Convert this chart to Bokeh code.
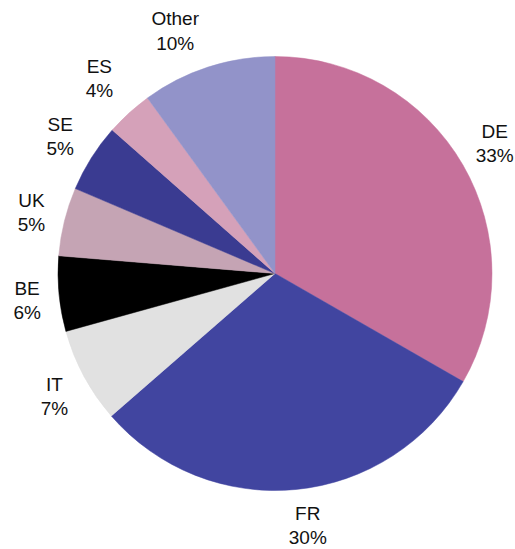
import math
from bokeh.plotting import figure
from bokeh.models import Range1d, ColumnDataSource
from bokeh.core.properties import value
from bokeh.embed import file_html
from bokeh.resources import INLINE

categories = ["DE", "FR", "IT", "BE", "UK", "SE", "ES", "Other"]
shares = [33.3, 30.3, 7.1, 5.6, 5.1, 5.1, 3.5, 10.0]
labels = ["33%", "30%", "7%", "6%", "5%", "5%", "4%", "10%"]
colors = ["#C6719B", "#4145A0", "#E1E1E1", "#000000", "#C5A4B4", "#3A3B91", "#D5A1B9", "#9293C9"]

# label nudges in pixels (dx right, dy down) relative to the mid-angle position
nudges = {"DE": (-1, -2), "FR": (8, -2), "IT": (4, 2), "BE": (6, 3),
          "UK": (4, 0), "SE": (1, -1), "ES": (-4, -6), "Other": (-21, 0)}

W, H = 515, 549
cx, cy = 274.5, 549 - 273
R = 217
LR = 255

total = sum(shares)
starts, ends, lx, ly, txt = [], [], [], [], []
cum = 0.0
for c, s, l in zip(categories, shares, labels):
    a0 = cum / total * 2 * math.pi
    cum += s
    a1 = cum / total * 2 * math.pi
    starts.append(math.pi / 2 - a0)
    ends.append(math.pi / 2 - a1)
    mid = (a0 + a1) / 2
    dx, dy = nudges[c]
    lx.append(cx + LR * math.sin(mid) + dx)
    ly.append(cy + LR * math.cos(mid) - dy)
    txt.append(c + "\n" + l)

src = ColumnDataSource(dict(start=starts, end=ends, color=colors))
lsrc = ColumnDataSource(dict(x=lx, y=ly, t=txt))

p = figure(width=W, height=H, output_backend="svg", toolbar_location=None,
           x_range=Range1d(0, W), y_range=Range1d(549 - H, 549),
           min_border=0)
p.axis.visible = False
p.grid.visible = False
p.outline_line_color = None

p.wedge(x=cx, y=cy, radius=R, start_angle="start", end_angle="end",
        direction="clock", fill_color="color", line_color="color",
        line_width=0.5, source=src)
p.text(x="x", y="y", text="t", source=lsrc, text_align="center",
       text_baseline="middle", text_font=value("Liberation Sans"),
       text_font_size="19px", text_color="#111111", text_line_height=1.15)

open("out.html", "w").write(file_html(p, INLINE))
